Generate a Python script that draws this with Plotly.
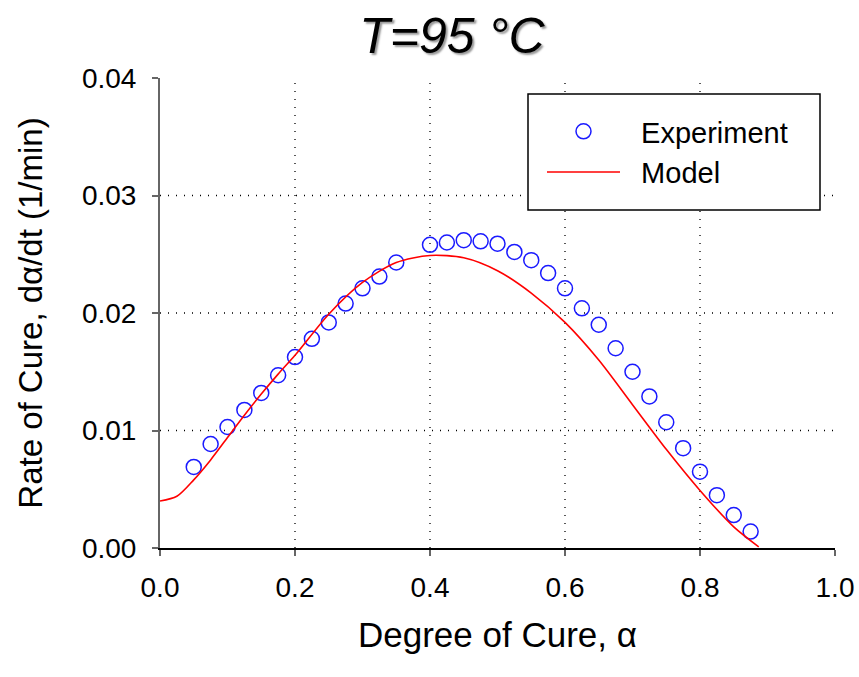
import plotly.graph_objects as go

# Experimental data
exp_alpha = [0.05, 0.075, 0.1, 0.125, 0.15, 0.175, 0.2, 0.225, 0.25, 0.275, 0.3, 0.325, 0.35,
             0.4, 0.425, 0.45, 0.475, 0.5, 0.525, 0.55, 0.575, 0.6, 0.625, 0.65, 0.675, 0.7,
             0.725, 0.75, 0.775, 0.8, 0.825, 0.85, 0.875]
exp_rate = [0.0069, 0.00885, 0.0103, 0.01175, 0.0132, 0.0147, 0.01625, 0.0178, 0.0192, 0.0208,
            0.0221, 0.0231, 0.0243, 0.0258, 0.0260, 0.0262, 0.0261, 0.0259, 0.0252, 0.0245,
            0.0234, 0.0221, 0.0204, 0.0190, 0.0170, 0.0150, 0.0129, 0.0107, 0.0085, 0.0065,
            0.0045, 0.0028, 0.0014]

# Model curve
model_alpha = [0.0, 0.025, 0.05, 0.075, 0.1, 0.125, 0.15, 0.175, 0.2, 0.25, 0.3, 0.35, 0.4,
               0.45, 0.5, 0.55, 0.6, 0.65, 0.7, 0.75, 0.8, 0.85, 0.887]
model_rate = [0.0040, 0.0044, 0.0058, 0.0075, 0.0094, 0.0113, 0.0131, 0.0148, 0.0164, 0.0199,
              0.0226, 0.0243, 0.0249, 0.0247, 0.0236, 0.0217, 0.0192, 0.0160, 0.0122, 0.0084,
              0.0049, 0.0018, 0.0001]

x_ticks = [0.0, 0.2, 0.4, 0.6, 0.8, 1.0]
x_ticktext = ["0.0", "0.2", "0.4", "0.6", "0.8", "1.0"]
y_ticks = [0.00, 0.01, 0.02, 0.03, 0.04]
y_ticktext = ["0.00", "0.01", "0.02", "0.03", "0.04"]
x_grid = [0.2, 0.4, 0.6, 0.8]
y_grid = [0.01, 0.02, 0.03]

FONT = "Liberation Sans, Arial, Helvetica, sans-serif"
GRID = dict(color="black", width=1.3, dash="1px,7px")

fig = go.Figure()
fig.add_trace(go.Scatter(
    x=exp_alpha, y=exp_rate, mode="markers", name="\u00a0\u00a0Experiment",
    marker=dict(symbol="circle-open", size=15, color="#1a1aff", line=dict(width=1.5, color="#1a1aff")),
    legendgroup="a",
))
fig.add_trace(go.Scatter(
    x=model_alpha, y=model_rate, mode="lines", name="\u00a0\u00a0Model",
    line=dict(color="#ff0000", width=1.6, shape="spline", smoothing=0.8),
    legendgroup="b",
))

# dotted grid lines (interior only, as in the reference)
for gx in x_grid:
    fig.add_shape(type="line", xref="x", yref="paper", x0=gx, x1=gx, y0=0, y1=1,
                  line=GRID, layer="below")
for gy in y_grid:
    fig.add_shape(type="line", xref="paper", yref="y", x0=0, x1=1, y0=gy, y1=gy,
                  line=GRID, layer="below")

# legend frame
fig.add_shape(type="rect", xref="paper", yref="paper",
              x0=(528 - 160) / 675, x1=(820 - 160) / 675,
              y0=(548 - 210) / 470, y1=(548 - 94) / 470,
              line=dict(color="black", width=1.5), fillcolor="white", layer="below")

fig.update_layout(
    width=859, height=677,
    margin=dict(l=160, r=24, t=78, b=129, autoexpand=False),
    paper_bgcolor="white", plot_bgcolor="white",
    font=dict(family=FONT, color="black", size=28),
    title=dict(text="T=95 °C", x=452 / 859, xref="container", xanchor="center",
               y=1 - 35 / 677, yref="container", yanchor="middle", automargin=False,
               font=dict(family=FONT, size=50, style="italic", color="black",
                         shadow="2px 2px 2px #999")),
    showlegend=True,
    legend=dict(x=(542 - 160) / 675, y=(548 - 106) / 470, xanchor="left", yanchor="top",
                bgcolor="rgba(0,0,0,0)", borderwidth=0, font=dict(size=29, family=FONT),
                itemwidth=73, tracegroupgap=0),
    xaxis=dict(range=[0, 1.0], tickvals=x_ticks, ticktext=x_ticktext, automargin=False,
               showline=True, linecolor="black", linewidth=1.5,
               ticks="outside", ticklen=6, tickcolor="#666", tickwidth=1.5,
               ticklabelstandoff=8, showgrid=False, zeroline=False, tickfont=dict(size=28),
               title=dict(text="Degree of Cure, α", font=dict(size=35), standoff=20)),
    yaxis=dict(range=[0, 0.04], tickvals=y_ticks, ticktext=y_ticktext, automargin=False,
               showline=True, linecolor="#666", linewidth=2,
               ticks="outside", ticklen=6, tickcolor="#666", tickwidth=1.5,
               ticklabelstandoff=10, showgrid=False, zeroline=False, tickfont=dict(size=28),
               title=dict(text="Rate of Cure, dα/dt (1/min)", font=dict(size=33), standoff=29)),
)

fig.write_html("out.html")
